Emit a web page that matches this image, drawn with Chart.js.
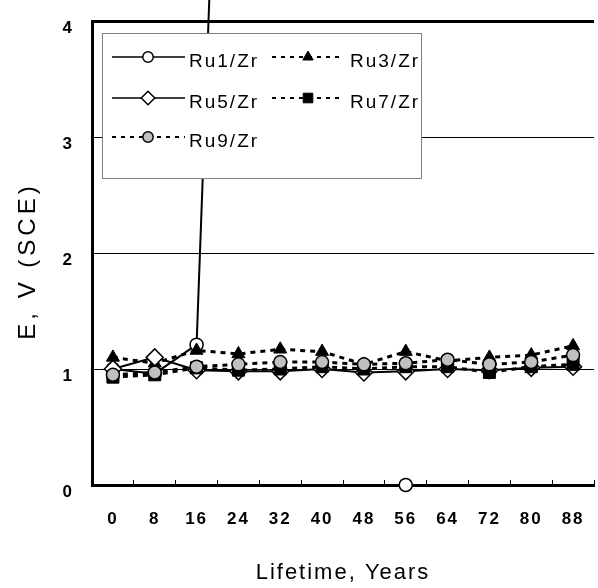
<!DOCTYPE html>
<html><head><meta charset="utf-8">
<script src="https://cdn.jsdelivr.net/npm/chart.js@4/dist/chart.umd.min.js"></script>
<style>
html,body{margin:0;padding:0;overflow:hidden;background:#fff;width:598px;height:588px}
#wrap{position:absolute;left:0;top:0;width:604px;height:588px}
</style>
</head><body><div id="wrap"><canvas id="c" width="604" height="588"></canvas></div>
<script>
// ---- data ----
const years = ['0','8','16','24','32','40','48','56','64','72','80','88'];
const ru1 = [1.00, 0.96, 1.21, 11.0, null, null, null, 0.00, null, null, null, null];
const ru3 = [1.10, 1.05, 1.16, 1.13, 1.17, 1.15, 1.04, 1.15, 1.07, 1.10, 1.12, 1.20];
const ru5 = [1.00, 1.10, 0.99, 0.98, 0.98, 1.00, 0.97, 0.98, 1.00, 0.99, 1.01, 1.02];
const ru7 = [0.93, 0.95, 1.01, 0.99, 1.00, 1.02, 1.00, 1.02, 1.02, 0.97, 1.02, 1.04];
const ru9 = [0.95, 0.97, 1.02, 1.04, 1.06, 1.06, 1.04, 1.05, 1.08, 1.04, 1.06, 1.12];
const yTicks = [0, 1, 2, 3, 4];
const seriesNames = ['Ru1/Zr', 'Ru3/Zr', 'Ru5/Zr', 'Ru7/Zr', 'Ru9/Zr'];

const FAM = '"Liberation Sans", Arial, Helvetica, sans-serif';

const datasets = [
  {label: seriesNames[0], data: ru1, borderColor:'#000', borderWidth:2, borderDash:[],
   pointStyle:'circle', pointRadius:6.5, pointBackgroundColor:'#fff', pointBorderColor:'#000', pointBorderWidth:1.5,
   clip:false, spanGaps:false, order:5},
  {label: seriesNames[1], data: ru3, borderColor:'#000', borderWidth:3, borderDash:[5,5],
   pointStyle:'triangle', pointRadius:7.5, pointBackgroundColor:'#000', pointBorderColor:'#000', pointBorderWidth:1, order:4},
  {label: seriesNames[2], data: ru5, borderColor:'#000', borderWidth:2, borderDash:[],
   pointStyle:'rectRot', pointRadius:8.5, pointBackgroundColor:'#fff', pointBorderColor:'#000', pointBorderWidth:1.5, order:3},
  {label: seriesNames[3], data: ru7, borderColor:'#000', borderWidth:3, borderDash:[5,5],
   pointStyle:'rect', pointRadius:8.5, pointBackgroundColor:'#000', pointBorderColor:'#000', pointBorderWidth:1, order:2},
  {label: seriesNames[4], data: ru9, borderColor:'#000', borderWidth:3, borderDash:[5,5],
   pointStyle:'circle', pointRadius:6.5, pointBackgroundColor:'#c0c0c0', pointBorderColor:'#000', pointBorderWidth:1.5, order:1}
];

// legend layout (box + entries)
const legendLayout = {
  box: {x:102, y:33, w:319, h:145},
  entries: [
    {ds:0, x0:112, x1:185, mx:148, y:57, tx:189},
    {ds:1, x0:272, x1:343, mx:308, y:57, tx:350},
    {ds:2, x0:112, x1:185, mx:148, y:98, tx:189},
    {ds:3, x0:272, x1:343, mx:308, y:98, tx:350},
    {ds:4, x0:112, x1:185, mx:148, y:137, tx:189}
  ]
};

const spacingPlugin = {
  id:'spacing',
  beforeDraw(chart){
    chart.ctx.letterSpacing = '2px';
    const ys = chart.scales.y;
    if (ys && !ys._titlePatched) {
      const orig = ys.drawTitle;
      ys.drawTitle = function(){
        const c = this.ctx;
        c.save();
        c.letterSpacing = '4px';
        c.translate(0, 8);
        orig.call(this);
        c.restore();
      };
      ys._titlePatched = true;
    }
  }
};

const boxLegend = {
  id:'boxLegend',
  afterDatasetsDraw(chart){
    const ctx = chart.ctx;
    const L = legendLayout;
    ctx.save();
    ctx.fillStyle = '#fff';
    ctx.fillRect(L.box.x, L.box.y, L.box.w, L.box.h);
    ctx.strokeStyle = '#808080';
    ctx.lineWidth = 1;
    ctx.setLineDash([]);
    ctx.strokeRect(L.box.x + 0.5, L.box.y + 0.5, L.box.w, L.box.h);
    L.entries.forEach(e => {
      const ds = chart.data.datasets[e.ds];
      ctx.strokeStyle = ds.borderColor;
      ctx.lineWidth = ds.borderWidth === 3 ? 2 : 1.5;
      ctx.setLineDash(ds.borderDash && ds.borderDash.length ? [4,5] : []);
      ctx.beginPath();
      ctx.moveTo(e.x0, e.y); ctx.lineTo(e.x1, e.y);
      ctx.stroke();
      ctx.setLineDash([]);
      ctx.fillStyle = ds.pointBackgroundColor;
      ctx.strokeStyle = ds.pointBorderColor;
      ctx.lineWidth = ds.pointBorderWidth;
      Chart.helpers.drawPoint(ctx, {pointStyle: ds.pointStyle, radius: ds.pointRadius * 0.8, rotation: 0, borderWidth: ds.pointBorderWidth}, e.mx, e.y);
      ctx.fillStyle = '#000';
      ctx.font = '19px ' + FAM;
      ctx.letterSpacing = '2px';
      ctx.textAlign = 'left';
      ctx.textBaseline = 'middle';
      ctx.fillText(ds.label, e.tx, e.y + 5);
    });
    ctx.restore();
  }
};

function noPad(s){ s.paddingLeft = 0; s.paddingRight = 0; s.paddingTop = 0; s.paddingBottom = 0; }

new Chart(document.getElementById('c').getContext('2d'), {
  type:'line',
  data:{labels: years, datasets},
  plugins:[spacingPlugin, boxLegend],
  options:{
    responsive:false, animation:false, devicePixelRatio:1,
    layout:{padding:{top:21, left:0, right:0, bottom:0}},
    plugins:{legend:{display:false}, tooltip:{enabled:false}},
    elements:{line:{tension:0, fill:false}},
    scales:{
      x:{
        type:'category', offset:true,
        grid:{offset:true, drawOnChartArea:false, drawTicks:true, tickLength:-5, color:'#000', lineWidth:1},
        border:{display:true, color:'#000', width:3},
        ticks:{color:'#000', font:{family:FAM, size:17, weight:'bold'}, padding:29, maxRotation:0, minRotation:0, autoSkip:false},
        title:{display:true, text:'Lifetime, Years', color:'#000', font:{family:FAM, size:22}, padding:{top:0, bottom:2}},
        afterFit(s){ s.height = 103; noPad(s); }
      },
      y:{
        min:0, max:4,
        afterBuildTicks(s){ s.ticks = yTicks.map(v => ({value:v})); },
        ticks:{color:'#000', font:{family:FAM, size:17, weight:'bold'}, padding:18, labelOffset:7},
        grid:{color:'#000', lineWidth:(c) => (c.tick && c.tick.value === 4) ? 3 : 1, drawTicks:false},
        border:{display:true, color:'#000', width:3},
        title:{display:true, text:'E, V (SCE)', color:'#000', font:{family:FAM, size:24}, padding:{top:14, bottom:0}},
        afterFit(s){ s.width = 92; noPad(s); }
      }
    }
  }
});
</script>
</body></html>
